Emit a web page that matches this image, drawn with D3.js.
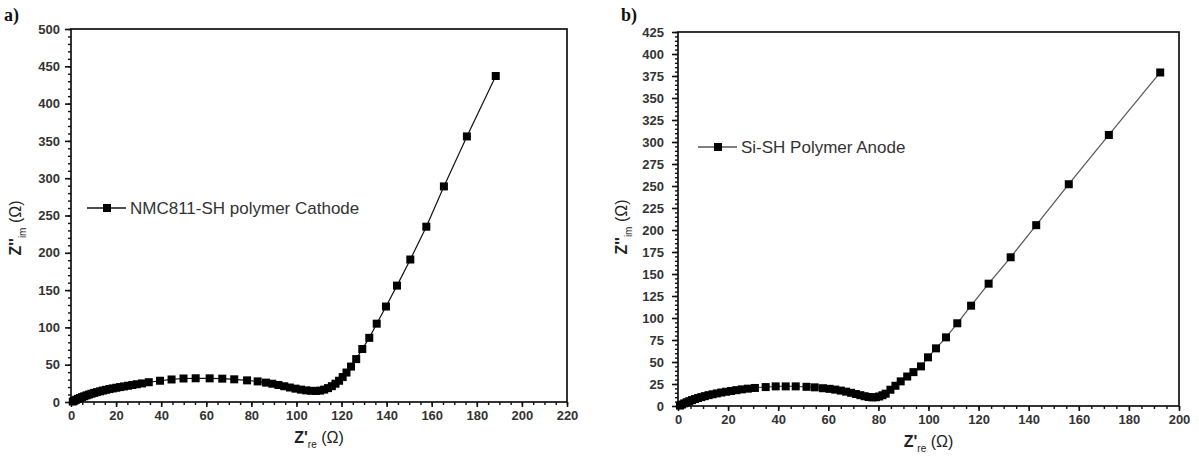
<!DOCTYPE html>
<html>
<head>
<meta charset="utf-8">
<script src="https://cdn.jsdelivr.net/npm/d3@7"></script>
<style>
  body { margin: 0; background: #fff; }
  svg { font-family: Arial, "Liberation Sans", sans-serif; }
</style>
</head>
<body>
<svg id="chart" width="1199" height="459"></svg>
<script>
// ---- data ----
var cathodeRe = [0.8,1.5,2.3,3.1,4.0,4.9,5.9,6.9,8.0,9.1,10.3,11.5,12.8,14.1,15.5,17.0,18.5,20.1,21.8,23.5,25.3,27.2,29.2,31.5,34.5,39.5,44.6,49.9,55.3,61.5,67.1,72.4,78.1,82.8,86.5,89.3,92.0,94.6,97.1,99.6,102.0,104.3,106.5,108.6,110.5,112.3,114.0,115.7,117.3,118.9,120.5,122.2,124.2,126.5,129.2,132.3,135.6,139.7,144.6,150.5,157.6,165.4,175.6,188.4];
var cathodeIm = [0.6,1.8,3.0,4.2,5.4,6.6,7.7,8.9,10.0,11.1,12.2,13.2,14.3,15.3,16.3,17.3,18.2,19.1,20.0,20.9,21.8,22.8,23.8,24.9,26.5,28.5,30.2,31.5,31.8,31.7,31.3,30.4,29.0,27.6,26.0,24.5,22.8,21.1,19.4,17.9,16.6,15.6,15.0,14.8,15.3,16.6,18.6,21.2,24.5,28.5,33.4,39.5,47.5,57.5,71.0,86.0,105.0,128.0,156.0,191.0,235.0,289.0,356.0,437.0];

var anodeRe = [0.8,1.6,2.5,3.5,4.5,5.6,6.8,8.0,9.3,10.7,12.2,13.8,15.5,17.3,19.2,21.2,23.3,25.5,27.9,30.7,35.0,39.0,43.0,47.0,51.3,54.6,57.9,60.5,62.8,65.0,67.1,69.1,71.0,72.8,74.5,76.1,77.6,79.0,80.3,81.6,82.9,84.8,86.8,88.9,91.5,94.0,97.0,99.8,103.0,107.0,111.5,117.0,124.0,132.8,143.0,156.0,172.0,192.5];
var anodeIm = [0.5,1.7,3.0,4.3,5.5,6.7,7.9,9.0,10.1,11.2,12.3,13.3,14.3,15.3,16.2,17.1,18.0,18.9,19.7,20.5,21.5,22.3,22.3,22.3,21.8,21.2,20.2,19.5,18.6,17.5,16.3,15.0,13.6,12.3,11.1,10.2,9.8,10.0,10.8,12.2,14.0,18.5,23.0,28.0,33.5,38.5,45.0,55.3,65.5,78.0,94.0,114.0,139.0,169.0,205.5,252.0,308.0,379.0];

var cathodeXTicks = [0,20,40,60,80,100,120,140,160,180,200,220];
var cathodeYTicks = [0,50,100,150,200,250,300,350,400,450,500];
var anodeXTicks = [0,20,40,60,80,100,120,140,160,180,200];
var anodeYTicks = [0,25,50,75,100,125,150,175,200,225,250,275,300,325,350,375,400,425];

var svg = d3.select("#chart");

function styleTicks(a, w) {
  a.select(".domain").remove();
  a.selectAll("line").attr("stroke", "#111").attr("stroke-width", w);
}

function drawPanel(p) {
  var x = d3.scaleLinear().domain(p.xDomain).range([p.left, p.right]);
  var y = d3.scaleLinear().domain(p.yDomain).range([p.bottom, p.top]);
  var g = svg.append("g");

  // frame
  g.append("rect")
    .attr("x", p.left).attr("y", p.top)
    .attr("width", p.right - p.left).attr("height", p.bottom - p.top)
    .attr("fill", "none").attr("stroke", "#111").attr("stroke-width", 1.7);

  // minor ticks
  g.append("g")
    .attr("transform", "translate(0," + p.bottom + ")")
    .call(d3.axisBottom(x).tickValues(d3.range(p.xDomain[0], p.xDomain[1] + 0.01, p.xMinor)).tickSize(3).tickFormat(""))
    .call(styleTicks, 1.4);
  g.append("g")
    .attr("transform", "translate(" + p.left + ",0)")
    .call(d3.axisLeft(y).tickValues(d3.range(p.yDomain[0], p.yDomain[1] + 0.01, p.yMinor)).tickSize(3).tickFormat(""))
    .call(styleTicks, 1.4);

  // major ticks
  g.append("g")
    .attr("transform", "translate(0," + p.bottom + ")")
    .call(d3.axisBottom(x).tickValues(p.xTicks).tickSize(5).tickPadding(4))
    .call(styleTicks, 1.6)
    .call(function(a) {
      a.selectAll("text").attr("fill", "#333").style("font-size", "13px").style("font-weight", "bold")
        .style("font-family", "Arial, 'Liberation Sans', sans-serif");
    });
  g.append("g")
    .attr("transform", "translate(" + p.left + ",0)")
    .call(d3.axisLeft(y).tickValues(p.yTicks).tickSize(6).tickPadding(p.yPad))
    .call(styleTicks, 1.6)
    .call(function(a) {
      a.selectAll("text").attr("fill", "#333").style("font-size", "13px").style("font-weight", "bold")
        .style("font-family", "Arial, 'Liberation Sans', sans-serif");
    });

  // data line + squares
  var pts = p.xs.map(function(v, i) { return [v, p.ys[i]]; });
  var line = d3.line().x(function(d) { return x(d[0]); }).y(function(d) { return y(d[1]); });
  g.append("path").datum(pts)
    .attr("d", line).attr("fill", "none")
    .attr("stroke", p.lineColor).attr("stroke-width", 1.2);
  g.selectAll(".pt").data(pts).enter().append("rect")
    .attr("x", function(d) { return x(d[0]) - 4; })
    .attr("y", function(d) { return y(d[1]) - 4; })
    .attr("width", 8).attr("height", 8)
    .attr("fill", "#000");

  // legend
  g.append("line")
    .attr("x1", p.legX).attr("x2", p.legX + 39)
    .attr("y1", p.legY).attr("y2", p.legY)
    .attr("stroke", p.lineColor).attr("stroke-width", 1.5);
  g.append("rect")
    .attr("x", p.legX + 16).attr("y", p.legY - 4)
    .attr("width", 8).attr("height", 8).attr("fill", "#000");
  g.append("text")
    .attr("x", p.legX + 43).attr("y", p.legY + 6)
    .attr("fill", "#333").style("font-size", "17px")
    .text(p.name);

  // x title
  var xt = g.append("text")
    .attr("x", (p.left + p.right) / 2).attr("y", p.bottom + 41)
    .attr("text-anchor", "middle").attr("fill", "#222");
  xt.append("tspan").style("font-weight", "bold").style("font-size", "16px").text("Z'");
  xt.append("tspan").attr("dy", 5).style("font-size", "10px").text("re");
  xt.append("tspan").attr("dy", -5).style("font-size", "16px").text(" (Ω)");

  // y title
  var yt = g.append("text")
    .attr("transform", "translate(" + p.yTitleX + "," + p.yTitleY + ") rotate(-90)")
    .attr("text-anchor", "middle").attr("fill", "#222");
  yt.append("tspan").style("font-weight", "bold").style("font-size", "16px").text("Z''");
  yt.append("tspan").attr("dy", 5).style("font-size", "10px").text("im");
  yt.append("tspan").attr("dy", -5).style("font-size", "16px").text(" (Ω)");

  // panel letter
  svg.append("text")
    .attr("x", p.letterX).attr("y", 21)
    .style("font-family", "'Liberation Serif', 'Times New Roman', serif")
    .style("font-weight", "bold").style("font-size", "18px")
    .attr("fill", "#111")
    .text(p.letter);
}

drawPanel({
  xs: cathodeRe, ys: cathodeIm, name: "NMC811-SH polymer Cathode",
  xDomain: [0, 220], yDomain: [0, 500], xTicks: cathodeXTicks, yTicks: cathodeYTicks,
  xMinor: 5, yMinor: 10, yPad: 5,
  left: 71, right: 567, top: 29, bottom: 402,
  yTitleX: 21, yTitleY: 228,
  lineColor: "#111", legX: 87, legY: 208, letter: "a)", letterX: 4
});

drawPanel({
  xs: anodeRe, ys: anodeIm, name: "Si-SH Polymer Anode",
  xDomain: [0, 200], yDomain: [0, 425], xTicks: anodeXTicks, yTicks: anodeYTicks,
  xMinor: 5, yMinor: 5, yPad: 8,
  left: 678, right: 1179, top: 32, bottom: 406,
  yTitleX: 627, yTitleY: 227,
  lineColor: "#555", legX: 698, legY: 147, letter: "b)", letterX: 621
});
</script>
</body>
</html>
